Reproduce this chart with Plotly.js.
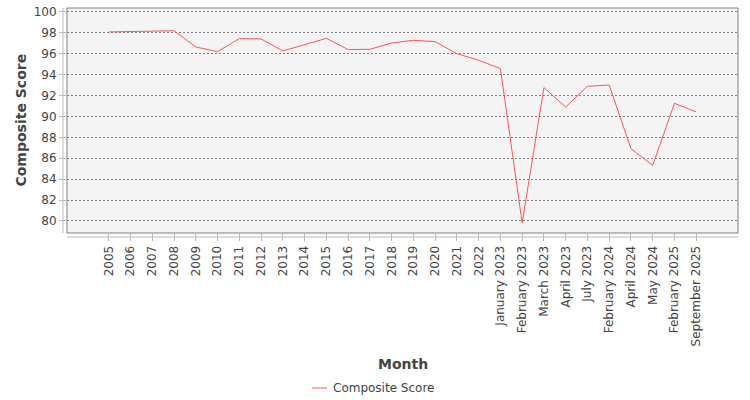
<!DOCTYPE html>
<html>
<head>
<meta charset="utf-8">
<script src="https://cdn.plot.ly/plotly-3.0.1.min.js"></script>
<style>
  html, body { margin: 0; padding: 0; background: #fff; }
  #chart { width: 750px; height: 400px; }
</style>
</head>
<body>
<div id="chart"></div>
<script>
// months on the category axis
const months = [
    "2005", "2006", "2007", "2008", "2009", "2010", "2011", "2012", "2013", "2014",
    "2015", "2016", "2017", "2018", "2019", "2020", "2021", "2022",
    "January 2023", "February 2023", "March 2023", "April 2023", "July 2023",
    "February 2024", "April 2024", "May 2024", "February 2025", "September 2025"
];
// composite score per month
const composite_score = [
    98.09, 98.12, 98.18, 98.2, 96.65, 96.2, 97.45, 97.42, 96.27, 96.9,
    97.48, 96.4, 96.43, 97.03, 97.29, 97.16, 96.01, 95.38,
    94.58, 79.81, 92.76, 90.91, 92.89,
    93.01, 86.92, 85.33, 91.26, 90.43
];
const y_ticks = [80, 82, 84, 86, 88, 90, 92, 94, 96, 98, 100];
const series_name = "Composite Score";
const series_color = "#ff5555";

const tick_font = {family: "DejaVu Sans", size: 12, color: "#444"};
const axis_gray = "#bbbbbb";

let data = [{
    type: "scatter",
    mode: "lines",
    x: months.map((m, i) => i),
    y: composite_score,
    name: series_name,
    line: {color: series_color, width: 1}
}];

// plot area is 671 x 225 px
let layout = {
    width: 750,
    height: 400,
    margin: {l: 67, r: 12, t: 8, b: 167},
    paper_bgcolor: "#ffffff",
    plot_bgcolor: "#f4f4f4",
    font: tick_font,
    showlegend: false,
    xaxis: {
        range: [-1.92, 28.92],
        tickmode: "array",
        tickvals: months.map((m, i) => i),
        ticktext: months,
        tickangle: -90,
        ticks: "outside",
        ticklen: 7,
        tickcolor: axis_gray,
        showgrid: false,
        zeroline: false,
        showline: false,
        automargin: false,
        tickfont: tick_font,
        fixedrange: true
    },
    yaxis: {
        range: [78.85, 100.38],
        tickmode: "array",
        tickvals: y_ticks,
        ticks: "outside",
        ticklen: 7,
        tickcolor: axis_gray,
        showgrid: true,
        gridcolor: "#808080",
        griddash: "2px,2px",
        gridwidth: 1,
        zeroline: false,
        showline: false,
        automargin: false,
        tickfont: tick_font,
        fixedrange: true
    },
    shapes: [
        // plot border
        {type: "rect", xref: "paper", yref: "paper", x0: 0, x1: 1, y0: 0, y1: 1,
         line: {color: "#808080", width: 1}},
        // offset axis lines
        {type: "line", xref: "paper", yref: "paper", x0: -4 / 671, x1: -4 / 671, y0: 0, y1: 1,
         line: {color: axis_gray, width: 1}},
        {type: "line", xref: "paper", yref: "paper", x0: 0, x1: 1, y0: -4 / 225, y1: -4 / 225,
         line: {color: axis_gray, width: 1}},
        // legend sample
        {type: "line", xref: "paper", yref: "paper", x0: 0.3651, x1: 0.3875, y0: -0.689, y1: -0.689,
         line: {color: series_color, width: 1}}
    ],
    annotations: [
        {text: "Month", xref: "paper", yref: "paper", x: 0.5, y: -0.582,
         xanchor: "center", yanchor: "middle", showarrow: false,
         font: {family: "DejaVu Sans", size: 14, color: "#444", weight: "bold"}},
        {text: "Composite Score", xref: "paper", yref: "paper", x: -0.07, y: 0.5,
         xanchor: "center", yanchor: "middle", textangle: -90, showarrow: false,
         font: {family: "DejaVu Sans", size: 14, color: "#444", weight: "bold"}},
        {text: series_name, xref: "paper", yref: "paper", x: 0.3934, y: -0.689,
         xanchor: "left", yanchor: "middle", showarrow: false,
         font: {family: "DejaVu Sans", size: 12, color: "#444"}}
    ]
};

let config = {staticPlot: true};
Plotly.newPlot("chart", data, layout, config);
</script>
</body>
</html>
